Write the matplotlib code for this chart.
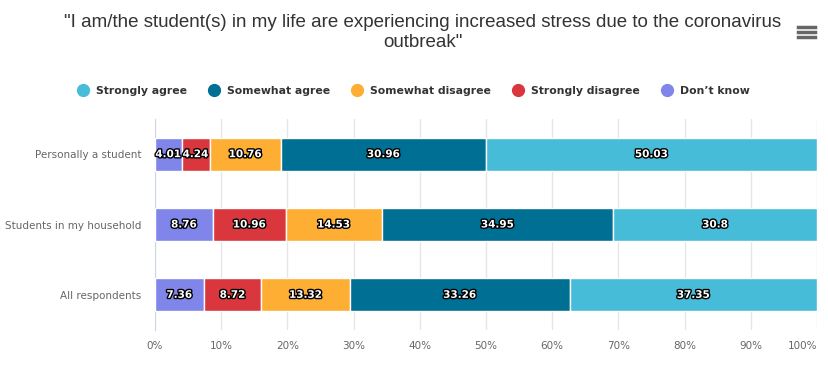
import numpy as np
import matplotlib.pyplot as plt
import matplotlib.patheffects as pe
from matplotlib.lines import Line2D

categories = ["Personally a student", "Students in my household", "All respondents"]
series = ["Strongly agree", "Somewhat agree", "Somewhat disagree", "Strongly disagree", "Don\u2019t know"]
colors = ["#47bcd8", "#006f94", "#fdae33", "#d9363e", "#8085e9"]
dont_know = [4.01, 8.76, 7.36]
strongly_disagree = [4.24, 10.96, 8.72]
somewhat_disagree = [10.76, 14.53, 13.32]
somewhat_agree = [30.96, 34.95, 33.26]
strongly_agree = [50.03, 30.8, 37.35]

# stacking order from the left
stack = [dont_know, strongly_disagree, somewhat_disagree, somewhat_agree, strongly_agree]
stack_colors = colors[::-1]

plt.rcParams["font.family"] = ["DejaVu Sans"]
fig = plt.figure(figsize=(8.29, 3.65), dpi=100)
ax = fig.add_axes([155 / 829, 35 / 365, 662 / 829, 211 / 365])

y = np.arange(len(categories))
left = np.zeros(len(categories))
totals = np.sum(np.array(stack), axis=0)
outline = [pe.withStroke(linewidth=2, foreground="black")]
for vals, c in zip(stack, stack_colors):
    vals = np.array(vals)
    w = vals / totals * 100
    ax.barh(y, w, left=left, height=0.47, color=c, edgecolor="white", linewidth=1, zorder=3)
    for yi, (l, wi, v) in enumerate(zip(left, w, vals)):
        ax.text(l + wi / 2, yi, f"{v:g}", ha="center", va="center", color="white",
                fontsize=7.5, fontweight="bold", path_effects=outline, zorder=4)
    left += w

ax.set_xlim(0, 100)
ax.set_ylim(len(categories) - 0.5, -0.5)
ax.set_yticks(y)
ax.set_yticklabels(categories, fontsize=7.5, color="#666666")
ax.set_xticks(np.arange(0, 101, 10))
ax.set_xticklabels([f"{t}%" for t in range(0, 101, 10)], fontsize=7.5, color="#666666")
ax.get_xticklabels()[-1].set_horizontalalignment("right")
ax.tick_params(length=0)
ax.tick_params(axis="x", pad=8)
ax.tick_params(axis="y", pad=10)
ax.grid(axis="x", color="#e6e6e6", linewidth=1, zorder=0)
for s in ["top", "right", "bottom"]:
    ax.spines[s].set_visible(False)
ax.spines["left"].set_color("#ccd6eb")

fig.text(0.51, 0.91, "\"I am/the student(s) in my life are experiencing increased stress due to the coronavirus\noutbreak\"",
         ha="center", va="center", fontsize=13.5, color="#333333", linespacing=1.25,
         family="Liberation Sans")

# menu icon
for dy in [0, 5, 10]:
    fig.add_artist(Line2D([798 / 829, 815 / 829], [(365 - 27 - dy) / 365] * 2, color="#666666",
                          linewidth=2.5))

handles = [Line2D([], [], marker="o", linestyle="", markersize=8.5, color=c) for c in colors]
leg = fig.legend(handles, series, loc="center", bbox_to_anchor=(0.496, 0.75), ncol=5, frameon=False,
                 prop={"size": 7.8, "weight": "bold"}, handletextpad=0.2,
                 columnspacing=1.5)
for t in leg.get_texts():
    t.set_color("#333333")

fig.savefig("out.png", dpi=100)
